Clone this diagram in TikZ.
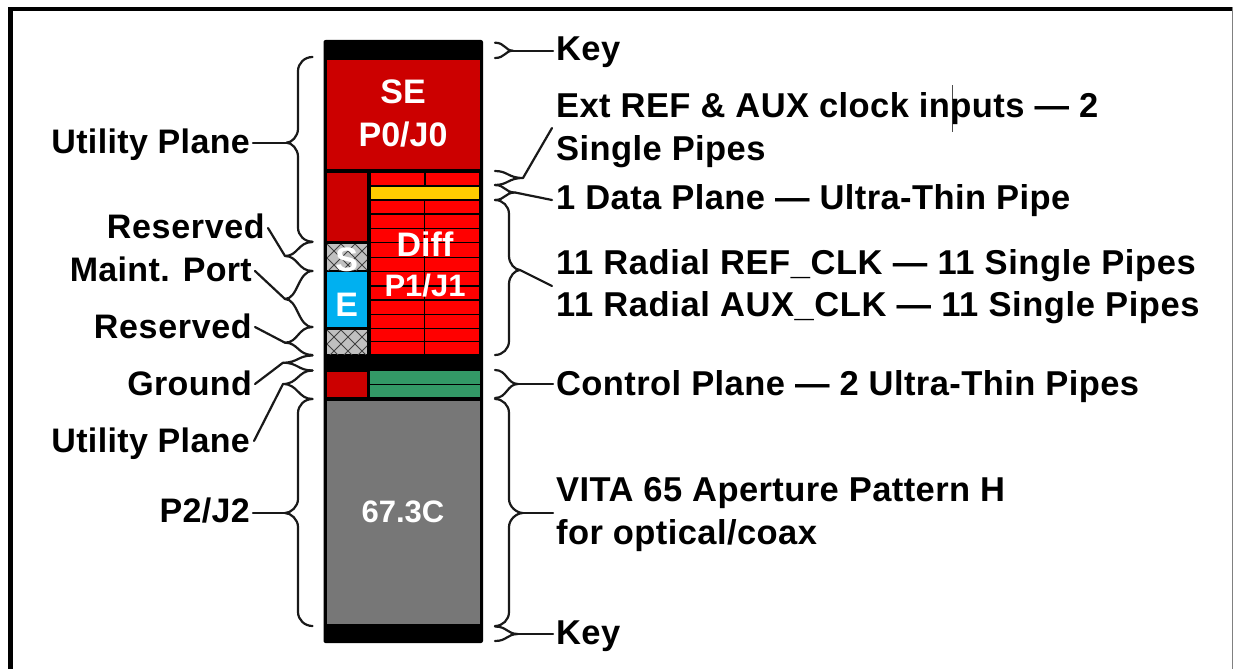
\documentclass[tikz,border=0pt]{standalone}
\usepackage{fontspec}
\setmainfont{Liberation Sans}
\newfontfamily\rightface[LetterSpace=1.2]{Liberation Sans}
\newfontfamily\wideface[LetterSpace=1.7]{Liberation Sans}
\newfontfamily\leftface[LetterSpace=1.0]{Liberation Sans}
\newfontfamily\reserveface[LetterSpace=2.0]{Liberation Sans}
\definecolor{dred}{HTML}{CC0000}
\definecolor{bred}{HTML}{FF0000}
\definecolor{gold}{HTML}{FFCC00}
\definecolor{sky}{HTML}{00B0F0}
\definecolor{grn}{HTML}{339966}
\definecolor{slab}{HTML}{777777}
\definecolor{hatchbg}{HTML}{C0C0C0}
\tikzset{
  labr/.style={font=\rightface\fontsize{34.5}{40}\selectfont\bfseries,inner sep=0pt,text=black,anchor=base west},
  labw/.style={labr,font=\wideface\fontsize{34.5}{40}\selectfont\bfseries},
  labl/.style={font=\leftface\fontsize{34}{40}\selectfont\bfseries,inner sep=0pt,text=black,anchor=base east},
  labs/.style={labl,font=\reserveface\fontsize{34}{40}\selectfont\bfseries},
  inlab/.style={font=\fontsize{34}{40}\selectfont\bfseries,inner sep=0pt,text=white,anchor=base},
  brc/.style={draw=black!90,line width=2.2pt,line cap=round,line join=round},
  cell/.style={fill=bred,draw=black,line width=1.3pt},
}
% long brace: #1 end x, #2 top y, #3 bottom y, #4 spine x, #5 tip name, #6 tip x, #7 tip y, #8 radius
\newcommand{\curly}[8]{%
  \coordinate (#5) at (#6,#7);
  \draw[brc] (#1,#2) .. controls ({#4+.45*(#1-#4)},#2) and (#4,{#2+.45*#8}) .. (#4,{#2+#8}) -- (#4,{#7-#8})
    .. controls (#4,{#7-.45*#8}) and ({#6+.45*(#4-#6)},#7) .. (#5)
    .. controls ({#6+.45*(#4-#6)},#7) and (#4,{#7+.45*#8}) .. (#4,{#7+#8}) -- (#4,{#3-#8})
    .. controls (#4,{#3-.45*#8}) and ({#4+.45*(#1-#4)},#3) .. (#1,#3);
}
% short brace: #1 end x, #2 top y, #3 bottom y, #4 mid x, #5 tip name, #6 tip x, #7 tip y
\newcommand{\shortcurly}[7]{%
  \coordinate (#5) at (#6,#7);
  \draw[brc] (#1,#2) .. controls (#4,#2) and (#4,#7) .. (#5)
    .. controls (#4,#7) and (#4,#3) .. (#1,#3);
}
% #1 x0, #2 y0, #3 x1, #4 y1
\newcommand{\hatchcell}[4]{%
  \fill[hatchbg] (#1,#2) rectangle (#3,#4);
  \begin{scope}
    \clip (#1,#2) rectangle (#3,#4);
    \foreach \k in {-4,...,6}{
      \draw[black!75,line width=.8pt] ({#1+\k*14},#2) -- ++(40,40);
      \draw[black!75,line width=.8pt] ({#1+\k*14},#2) -- ++(-40,40);
    }
  \end{scope}
}
\begin{document}
\begin{tikzpicture}[x=1pt,y=-1pt]
\useasboundingbox (0,0) rectangle (1233,669);
\fill[white] (0,0) rectangle (1233,669);
% frame
\fill[black] (7.5,7.5) rectangle (1233,11.3);
\fill[black] (7.5,7.5) rectangle (12.5,669);
\draw[gray,line width=1pt] (1232.3,7.5) -- (1232.3,669);
\draw[black!70,line width=1pt] (952.7,85) -- (952.7,132);
% connector body
\fill[black,rounded corners=2pt] (323.5,40) rectangle (483,643);
\fill[dred] (327,60) rectangle (480,169);
\fill[dred] (327,172.7) rectangle (367,241);
\hatchcell{327}{244}{367}{270}
\fill[sky] (327,271.7) rectangle (367,326.7);
\hatchcell{327}{330}{367}{354.3}
% right red cells
\foreach \a/\b in {200/214,214/228.3,228.3/242.7,242.7/257.3,257.3/271.7,271.7/286,286/300,300/314.3,314.3/328.3,328.3/341.7,341.7/355}{
  \draw[cell] (370,\a) rectangle (424.5,\b);
  \draw[cell] (424.5,\a) rectangle (480,\b);
}
\draw[cell] (370,172.7) rectangle (425,185.5);
\draw[cell] (425,172.7) rectangle (480,185.5);
\draw[fill=gold,draw=black,line width=1.2pt] (370,186) rectangle (480,199.5);
\fill[dred] (327,371.7) rectangle (367,397.3);
\draw[fill=grn,draw=black,line width=1.2pt] (369.5,370.5) rectangle (481,384.3);
\draw[fill=grn,draw=black,line width=1.2pt] (369.5,384.3) rectangle (481,397.5);
\fill[slab] (327,400.7) rectangle (480,624);
% inside text
\node[inlab] (se) at (403,103.5) {SE};
\node[inlab] (p0) at (403,146.7) {P0/J0};
\node[inlab] (diff) at (425,256.7) {Diff};
\node[inlab,font=\fontsize{31}{36}\selectfont\bfseries] (p1) at (425,296) {P1/J1};
\node[inlab] (s) at (346.7,271.7) {S};
\node[inlab] (e) at (346.7,316.7) {E};
\node[inlab,font=\fontsize{31}{36}\selectfont\bfseries] (gc) at (403,522) {67.3C};
% right labels
\node[labr] (key1) at (556,60.5) {Key};
\node[labr] (ext1) at (556,117) {Ext REF \& AUX clock inputs — 2};
\node[labr] (ext2) at (556,160) {Single Pipes};
\node[labr] (data) at (556,209.5) {1 Data Plane — Ultra-Thin Pipe};
\node[labw] (rad1) at (556,274) {11 Radial REF\_CLK — 11 Single Pipes};
\node[labw] (rad2) at (556,316) {11 Radial AUX\_CLK — 11 Single Pipes};
\node[labr] (ctrl) at (556,395) {Control Plane — 2 Ultra-Thin Pipes};
\node[labr] (vita) at (556,501) {VITA 65 Aperture Pattern H};
\node[labr] (opt) at (556,544) {for optical/coax};
\node[labr] (key2) at (556,644) {Key};
% left labels
\node[labl] (up1) at (250,153) {Utility Plane};
\node[labs] (res1) at (265,238) {Reserved};
\node[labl] (mp) at (252,281) {Maint. Port};
\node[labs] (res2) at (252,338) {Reserved};
\node[labl] (gnd) at (252,395) {Ground};
\node[labl] (up2) at (250,452) {Utility Plane};
\node[labl] (p2) at (250,522) {P2/J2};
% left braces
\curly{312.5}{57}{241.7}{298}{tUP}{286.5}{142.7}{14}
\shortcurly{312.5}{242}{271}{298}{tRA}{285}{256}
\shortcurly{312.5}{271}{327}{298}{tMP}{285}{299}
\shortcurly{312.5}{327}{355}{298}{tRB}{285}{342.7}
\shortcurly{312.5}{355.5}{370.5}{298}{tGN}{283}{362.7}
\shortcurly{312.5}{370.5}{399}{298}{tUQ}{283}{384}
\curly{312.5}{399}{626}{298}{tP2}{285}{513}{14}
% right braces
\shortcurly{495}{42.7}{58}{505}{tK1}{513}{50.7}
\shortcurly{495}{171}{185}{508}{tEX}{523}{178}
\shortcurly{495}{185}{200}{505}{tDA}{515}{192.5}
\curly{495}{200}{355}{509}{tRD}{520}{270}{14}
\shortcurly{495}{370}{398}{507}{tCT}{518}{384}
\curly{495}{399}{626}{509}{tVI}{523}{513}{14}
\shortcurly{495}{626.5}{641}{507}{tK2}{518}{634}
% leader ends
\coordinate (eUP) at (253,142.7);
\coordinate (eRA) at (268,228);
\coordinate (eMP) at (255,271);
\coordinate (eRB) at (255,327);
\coordinate (eGN) at (255,384);
\coordinate (eUQ) at (254,441);
\coordinate (eP2) at (253,513);
\coordinate (eK1) at (553,50.7);
\coordinate (eEX) at (552,128);
\coordinate (eDA) at (552,200);
\coordinate (eRD) at (552,286);
\coordinate (eCT) at (553,384);
\coordinate (eVI) at (553,513);
\coordinate (eK2) at (553,634);
\foreach \t/\e in {tUP/eUP,tRA/eRA,tMP/eMP,tRB/eRB,tGN/eGN,tUQ/eUQ,tP2/eP2,tK1/eK1,tEX/eEX,tDA/eDA,tRD/eRD,tCT/eCT,tVI/eVI,tK2/eK2}
  \draw[brc] (\t) -- (\e);
\end{tikzpicture}
\end{document}
